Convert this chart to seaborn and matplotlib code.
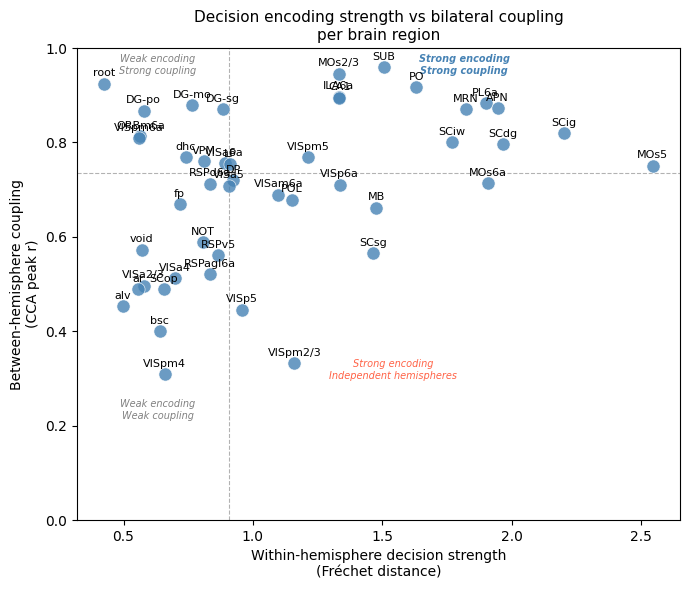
import matplotlib
matplotlib.use("Agg")
import matplotlib.pyplot as plt
import seaborn as sns
import numpy as np
import pandas as pd

regions = ["root", "DG-po", "DG-mo", "DG-sg", "ORBm6a", "VISpm6a", "dhc", "VPM",
           "VISa6a", "LP", "DP", "VISa5", "RSPd6a", "VISam6a", "POL", "VISpm5",
           "VISp6a", "MOs2/3", "ILA6a", "CA1", "fp", "MB", "SUB", "PO", "MRN",
           "PL6a", "APN", "SCiw", "SCdg", "SCig", "MOs5", "MOs6a", "NOT", "RSPv5",
           "void", "RSPagl6a", "VISa4", "VISa2/3", "ar", "SCop", "alv", "bsc",
           "VISp5", "VISpm2/3", "VISpm4", "SCsg"]
frechet = [0.426, 0.578, 0.765, 0.885, 0.565, 0.560, 0.740, 0.810,
           0.891, 0.911, 0.924, 0.907, 0.833, 1.098, 1.152, 1.214,
           1.335, 1.331, 1.332, 1.334, 0.717, 1.477, 1.505, 1.632, 1.823,
           1.900, 1.946, 1.769, 1.966, 2.202, 2.545, 1.908, 0.807, 0.866,
           0.571, 0.833, 0.698, 0.578, 0.556, 0.656, 0.497, 0.640,
           0.959, 1.160, 0.659, 1.466]
cca_r = [0.924, 0.867, 0.879, 0.870, 0.813, 0.809, 0.769, 0.760,
         0.756, 0.754, 0.720, 0.708, 0.712, 0.689, 0.678, 0.769,
         0.710, 0.945, 0.897, 0.895, 0.669, 0.662, 0.959, 0.917, 0.870,
         0.883, 0.872, 0.800, 0.796, 0.819, 0.750, 0.713, 0.588, 0.561,
         0.572, 0.521, 0.512, 0.496, 0.489, 0.489, 0.453, 0.400,
         0.446, 0.332, 0.309, 0.565]

df = pd.DataFrame({"region": regions, "frechet": frechet, "cca": cca_r})

fig, ax = plt.subplots(figsize=(6.9, 5.9), dpi=100)
sns.scatterplot(data=df, x="frechet", y="cca", ax=ax, s=90, color="steelblue",
                alpha=0.8, edgecolor="white", linewidth=0.5, zorder=3)
for _, r in df.iterrows():
    ax.annotate(r["region"], (r["frechet"], r["cca"]), xytext=(0, 4),
                textcoords="offset points", ha="center", va="bottom",
                fontsize=8, zorder=4)

xmed = np.median(df["frechet"])
ymed = np.median(df["cca"])
ax.axvline(xmed, color="gray", ls="--", lw=0.8, alpha=0.6, zorder=1)
ax.axhline(ymed, color="gray", ls="--", lw=0.8, alpha=0.6, zorder=1)

ax.set_ylim(0, 1.0)
ax.margins(x=0.05)

ax.text(0.134, 0.964, "Weak encoding\nStrong coupling", transform=ax.transAxes,
        ha="center", va="center", fontsize=7, style="italic", color="gray")
ax.text(0.642, 0.964, "Strong encoding\nStrong coupling", transform=ax.transAxes,
        ha="center", va="center", fontsize=7, style="italic", fontweight="bold",
        color="steelblue")
ax.text(0.524, 0.318, "Strong encoding\nIndependent hemispheres", transform=ax.transAxes,
        ha="center", va="center", fontsize=7, style="italic", color="tomato")
ax.text(0.134, 0.233, "Weak encoding\nWeak coupling", transform=ax.transAxes,
        ha="center", va="center", fontsize=7, style="italic", color="gray")

ax.set_xlabel("Within-hemisphere decision strength\n(Fréchet distance)", fontsize=10)
ax.set_ylabel("Between-hemisphere coupling\n(CCA peak r)", fontsize=10)
ax.set_title("Decision encoding strength vs bilateral coupling\nper brain region", fontsize=11)

fig.subplots_adjust(left=0.1116, right=0.9855, top=0.9186, bottom=0.1186)
fig.savefig("out.png", dpi=100)
